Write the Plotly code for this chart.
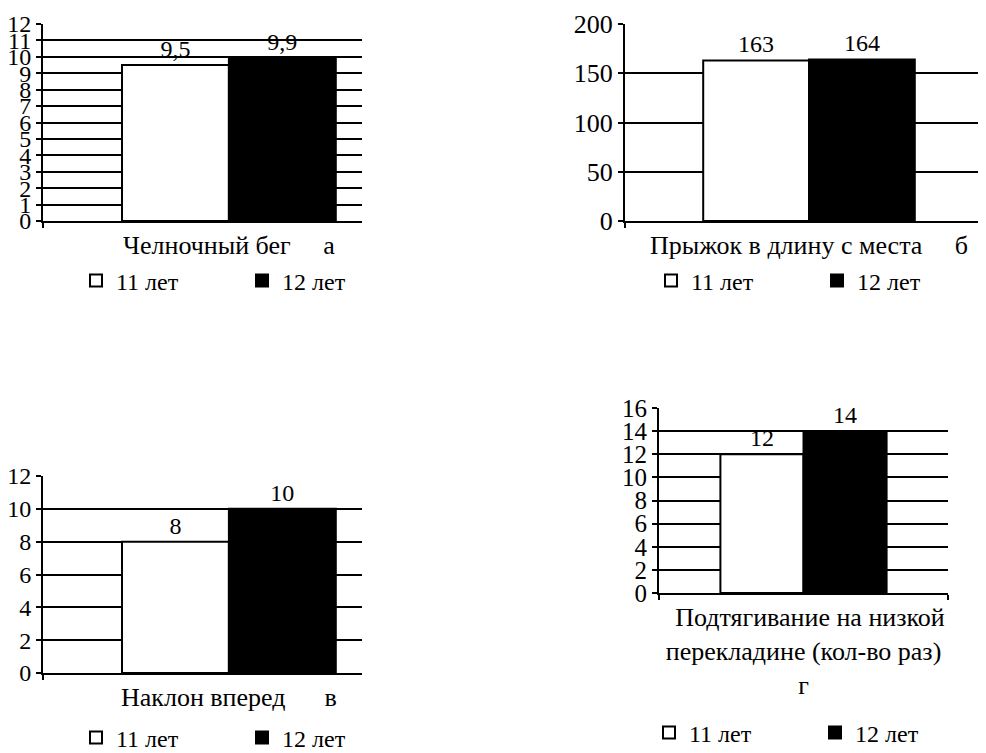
import plotly.graph_objects as go

# page body has an 8px margin, so the figure fills the rest of the 986x753 window
OFF = 8
W, H = 986 - OFF, 753 - OFF

# ---------------- data ----------------
categories = ["Челночный бег", "Прыжок в длину с места", "Наклон вперед",
              "Подтягивание на низкой перекладине (кол-во раз)"]
panel_letters = ["а", "б", "в", "г"]
series_names = ["11 лет", "12 лет"]
age_11 = [9.5, 163, 8, 12]
age_12 = [9.9, 164, 10, 14]
y_max = [12, 200, 12, 16]
y_step = [1, 50, 2, 2]
tick_labels = [
    "Челночный бег\u00a0\u00a0\u00a0\u00a0\u00a0а",
    "Прыжок в длину с места\u00a0\u00a0\u00a0\u00a0\u00a0б",
    "Наклон вперед\u00a0\u00a0\u00a0\u00a0\u00a0\u00a0в",
    "\u00a0\u00a0Подтягивание на низкой<br>перекладине (кол-во раз)<br>г",
]

# ---------------- layout geometry (window pixels) ----------------
panels = [
    dict(x0=43, x1=362, y0=24, y1=221, xr=[-0.5, 0.358], lx=76, ly=281, tf=24),
    dict(x0=625, x1=986, y0=24, y1=221, xr=[-0.5, 0.481], lx=651, ly=281, tf=26),
    dict(x0=43, x1=362, y0=476, y1=673, xr=[-0.5, 0.358], lx=76, ly=738, tf=24),
    dict(x0=659, x1=948, y0=408, y1=593, xr=[-0.5, 0.5], lx=649, ly=733, tf=25),
]

FONT = "Liberation Serif"
fills = ["white", "black"]


def fx(px):
    return (px - OFF) / W


def fy(py):
    return 1 - (py - OFF) / H


def fmt(v):
    return f"{v:g}".replace(".", ",")


fig = go.Figure()
layout = dict(
    width=W, height=H, margin=dict(l=0, r=0, t=0, b=0, autoexpand=False),
    paper_bgcolor="white", plot_bgcolor="white",
    font=dict(family=FONT, color="black", size=26),
    barmode="group", bargap=0.425, bargroupgap=0,
    showlegend=True,
)

for i, p in enumerate(panels):
    n = "" if i == 0 else str(i + 1)
    xa, ya = "x" + n, "y" + n
    leg = "legend" + n
    for s, vals in enumerate([age_11, age_12]):
        fig.add_trace(go.Bar(
            x=[categories[i]], y=[vals[i]], name=series_names[s],
            xaxis=xa, yaxis=ya, legend=leg,
            marker=dict(color=fills[s], line=dict(color="black", width=2)),
            text=[fmt(vals[i])], textposition="outside",
            textfont=dict(family=FONT, size=24, color="black"),
            cliponaxis=False, hoverinfo="skip",
        ))
    layout["xaxis" + n] = dict(
        domain=[fx(p["x0"]), fx(p["x1"])], anchor=ya,
        type="category", range=p["xr"],
        tickvals=[categories[i]], ticktext=[tick_labels[i]], tickangle=0,
        showline=True, linecolor="black", linewidth=2,
        ticks="outside", tickson="boundaries", ticklen=5, tickwidth=1.5, tickcolor="black",
        tickfont=dict(family=FONT, size=26, color="black"),
        showgrid=False, zeroline=False, fixedrange=True, automargin=False,
    )
    layout["yaxis" + n] = dict(
        domain=[fy(p["y1"]), fy(p["y0"])], anchor=xa,
        range=[0, y_max[i]], dtick=y_step[i], tick0=0,
        showline=True, linecolor="black", linewidth=2,
        ticks="outside", ticklen=5, tickwidth=1.5, tickcolor="black",
        showgrid=True, gridcolor="black", gridwidth=2,
        zeroline=False, fixedrange=True, automargin=False,
        tickfont=dict(family=FONT, size=p["tf"], color="black"),
    )
    layout[leg] = dict(
        orientation="h", x=fx(p["lx"]), y=fy(p["ly"]),
        xanchor="left", yanchor="middle", xref="paper", yref="paper",
        font=dict(family=FONT, size=24, color="black"),
        itemwidth=30, entrywidth=121, bgcolor="rgba(0,0,0,0)",
        traceorder="normal", itemclick=False, itemdoubleclick=False,
    )

fig.update_layout(**layout)
fig.write_html("out.html")
